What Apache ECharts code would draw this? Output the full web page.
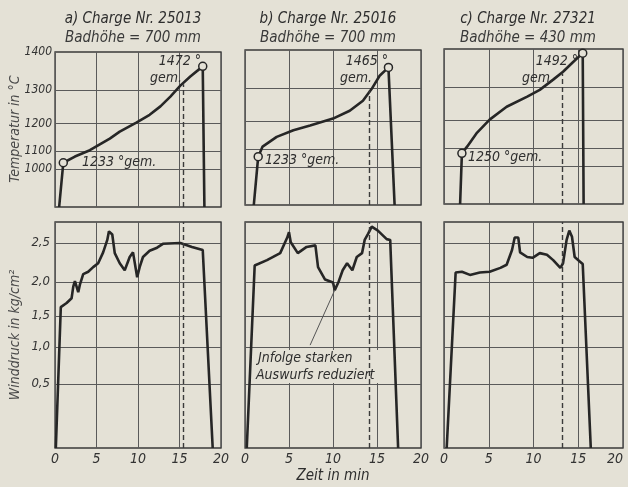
<!DOCTYPE html>
<html>
<head>
<meta charset="utf-8">
<script src="https://cdn.jsdelivr.net/npm/echarts@6/dist/echarts.min.js"></script>
<style>
  html, body { margin: 0; background: #e4e1d6; }
  #chart { width: 628px; height: 487px; }
</style>
</head>
<body>
<div id="chart"></div>
<script>
// printed grid is not evenly spaced: tick values and where their lines sit (share of plot height)
const tempTicks = [900, 1000, 1100, 1200, 1300, 1400];
const tempTickPos = [0, 0.244, 0.359, 0.538, 0.756, 1];
const pressTicks = [0, 0.5, 1.0, 1.5, 2.0, 2.5, 2.77];
const pressTickPos = [0, 0.283, 0.447, 0.584, 0.735, 0.907, 1];
const pressLabels = ["0,5", "1,0", "1,5", "2,0", "2,5"];

const charges = ["a) Charge Nr. 25013", "b) Charge Nr. 25016", "c) Charge Nr. 27321"];
const bathHeights = ["Badhöhe = 700 mm", "Badhöhe = 700 mm", "Badhöhe = 430 mm"];
const startTemps = ["1233", "1233", "1250"];
const endTemps = ["1472", "1465", "1492"];

// time (min), temperature
const tempA = [[0.5, 900], [1.0, 1036], [2.4, 1071], [4.2, 1104], [5.4, 1125], [6.6, 1146], [7.8, 1171],
  [9.8, 1203], [11.4, 1226], [12.7, 1251], [13.9, 1280], [15.1, 1311], [16.3, 1335], [17.8, 1362], [18.0, 900]];
const tempB = [[1.0, 900], [1.5, 1059], [2.0, 1110], [3.6, 1145], [5.5, 1169], [7.4, 1186], [10.0, 1209],
  [11.9, 1232], [13.4, 1262], [14.4, 1297], [15.3, 1332], [16.3, 1354], [17.0, 900]];
const tempC = [[1.8, 900], [2.0, 1072], [2.6, 1107], [3.7, 1157], [5.1, 1203], [7.0, 1241], [9.3, 1271],
  [10.7, 1291], [12.2, 1319], [13.3, 1340], [14.4, 1365], [15.5, 1389], [15.6, 900]];

// time (min), wind pressure kg/cm2
const pressA = [[0.1, 0], [0.7, 1.63], [1.4, 1.69], [2.0, 1.76], [2.2, 1.93], [2.4, 2.01], [2.8, 1.85], [3.0, 1.96],
  [3.4, 2.10], [4.0, 2.13], [4.6, 2.19], [5.2, 2.24], [5.8, 2.38], [6.3, 2.54], [6.5, 2.65], [6.9, 2.61], [7.2, 2.37],
  [7.8, 2.24], [8.4, 2.15], [9.0, 2.32], [9.4, 2.38], [9.9, 2.06], [10.2, 2.19], [10.6, 2.32], [11.4, 2.40],
  [12.3, 2.44], [13.0, 2.49], [15.1, 2.50], [16.5, 2.45], [17.8, 2.41], [19.0, 0]];
const pressB = [[0.2, 0], [1.1, 2.21], [2.5, 2.28], [4.0, 2.37], [4.8, 2.57], [5.0, 2.64], [5.2, 2.51], [6.0, 2.37],
  [7.0, 2.45], [8.0, 2.47], [8.3, 2.19], [9.1, 2.03], [10.0, 1.99], [10.2, 1.88], [10.6, 1.99], [11.1, 2.15],
  [11.6, 2.24], [12.2, 2.15], [12.7, 2.32], [13.3, 2.37], [13.6, 2.54], [14.0, 2.62], [14.4, 2.71], [15.1, 2.66],
  [16.1, 2.55], [16.5, 2.54], [17.4, 0]];
const pressC = [[0.3, 0], [1.3, 2.12], [2.0, 2.13], [2.9, 2.09], [4.0, 2.12], [5.1, 2.13], [6.3, 2.18], [7.0, 2.22],
  [7.6, 2.41], [7.9, 2.57], [8.3, 2.57], [8.5, 2.38], [9.3, 2.32], [9.9, 2.31], [10.7, 2.37], [11.5, 2.35],
  [12.2, 2.28], [13.0, 2.18], [13.3, 2.24], [13.7, 2.54], [14.0, 2.66], [14.3, 2.58], [14.6, 2.32], [15.2, 2.26],
  [15.5, 2.23], [16.4, 0]];

// dashed line: time and the temperature where it meets the curve
const sampleTime = [15.4, 14.1, 13.2];
const sampleTemp = [1315, 1292, 1335];

const temps = [tempA, tempB, tempC];
const presses = [pressA, pressB, pressC];

const paper = "#e4e1d6";
const ink = "#262626";
const gridInk = "#5a5a5a";
const font = "'DejaVu Sans Condensed', 'Liberation Sans Narrow', 'DejaVu Sans', sans-serif";

function toPos(v, ticks, pos) {
  for (let i = 1; i < ticks.length; i++) {
    if (v <= ticks[i]) {
      return pos[i - 1] + (v - ticks[i - 1]) / (ticks[i] - ticks[i - 1]) * (pos[i] - pos[i - 1]);
    }
  }
  return pos[pos.length - 1];
}
const tPos = v => toPos(v, tempTicks, tempTickPos);
const pPos = v => toPos(v, pressTicks, pressTickPos);

function nearest(v, arr) {
  let best = 0;
  arr.forEach((a, i) => { if (Math.abs(a - v) < Math.abs(arr[best] - v)) best = i; });
  return best;
}

const cols = [{ left: 55, width: 166 }, { left: 245, width: 176 }, { left: 444, width: 179 }];
const topRow = [52, 50, 49];

const grid = [], xAxis = [], yAxis = [], series = [];

cols.forEach((c, i) => {
  grid.push({ left: c.left, width: c.width, top: topRow[i], height: 155, show: true, outerBoundsMode: "none",
    borderColor: "#3a3a3a", borderWidth: 1.3, backgroundColor: "transparent" });
});
cols.forEach((c, i) => {
  grid.push({ left: c.left, width: c.width, top: 222, height: 226, show: true, outerBoundsMode: "none",
    borderColor: "#3a3a3a", borderWidth: 1.3, backgroundColor: "transparent" });
});

for (let g = 0; g < 6; g++) {
  const bottom = g >= 3;
  xAxis.push({
    type: "value", gridIndex: g, min: 0, max: 20, interval: 5,
    axisLine: { show: false }, axisTick: { show: false },
    splitLine: { show: true, lineStyle: { color: gridInk, width: 1 } },
    axisLabel: { show: bottom, color: "#333", fontSize: 14, fontStyle: "italic", fontFamily: font, margin: 4,
      alignMaxLabel: g === 5 ? "right" : null }
  });
  if (!bottom) {
    yAxis.push({
      type: "value", gridIndex: g, min: 0, max: 1,
      axisLine: { show: false },
      axisTick: { show: false, customValues: tempTickPos.slice(1, 5) },
      splitLine: { show: true, lineStyle: { color: gridInk, width: 1 } },
      axisLabel: {
        show: g === 0, customValues: tempTickPos.slice(1), margin: 3,
        color: "#333", fontSize: 12, fontStyle: "italic", fontFamily: font,
        formatter: v => String(tempTicks[nearest(v, tempTickPos)])
      }
    });
  } else {
    yAxis.push({
      type: "value", gridIndex: g, min: 0, max: 1,
      axisLine: { show: false },
      axisTick: { show: false, customValues: pressTickPos.slice(1, 6) },
      splitLine: { show: true, lineStyle: { color: gridInk, width: 1 } },
      axisLabel: {
        show: g === 3, customValues: pressTickPos.slice(1, 6), margin: 5,
        color: "#333", fontSize: 13, fontStyle: "italic", fontFamily: font,
        formatter: v => pressLabels[nearest(v, pressTickPos.slice(1, 6))]
      }
    });
  }
}

temps.forEach((d, i) => {
  const n = d.length;
  series.push({
    type: "line", xAxisIndex: i, yAxisIndex: i, symbol: "none", showAllSymbol: true,
    lineStyle: { color: ink, width: 2.6 },
    itemStyle: { color: paper, borderColor: ink, borderWidth: 1.5 },
    data: d.map((p, k) => {
      const item = { value: [p[0], tPos(p[1])] };
      if (k === 1 || k === n - 2) { item.symbol = "circle"; item.symbolSize = 8; }
      return item;
    }),
    markLine: {
      silent: true, symbol: "none", label: { show: false },
      lineStyle: { color: "#3a3a3a", type: [5, 3], width: 1.4 },
      data: [[{ coord: [sampleTime[i], 0] }, { coord: [sampleTime[i], tPos(sampleTemp[i])] }]]
    },
    z: 3
  });
});

presses.forEach((d, i) => {
  const s = {
    type: "line", xAxisIndex: i + 3, yAxisIndex: i + 3, symbol: "none",
    lineStyle: { color: ink, width: 2.6 },
    data: d.map(p => [p[0], pPos(p[1])]),
    markLine: {
      silent: true, symbol: "none", label: { show: false },
      lineStyle: { color: "#3a3a3a", type: [5, 3], width: 1.4 },
      data: [{ xAxis: sampleTime[i] }]
    },
    z: 3
  };
  if (i === 1) {
    s.markLine.data.push([
      { coord: [10.2, pPos(1.88)], lineStyle: { type: "solid", width: 1, color: "#555" } },
      { coord: [7.4, pPos(1.03)] }
    ]);
  }
  series.push(s);
});

const txt = (x, y, text, opt) => Object.assign({
  type: "text", x: x, y: y,
  style: Object.assign({ text: text, fill: "#2e2e2e", font: "italic 14px " + font,
    textAlign: "center", textVerticalAlign: "middle" }, opt || {}),
  z: 10
});

const graphic = [];
const titleX = [133, 328, 528];
titleX.forEach((x, i) => {
  graphic.push(txt(x, 19, charges[i], { font: "italic 15px " + font }));
  graphic.push(txt(x, 38, bathHeights[i], { font: "italic 15px " + font, fill: "#3a3a3a" }));
});
// measured temperatures
const startX = [82, 265, 468], startY = [162, 160, 157];
const endX = [201, 388, 578], gemX = [182, 372, 554];
startTemps.forEach((t, i) => {
  graphic.push(txt(startX[i], startY[i], t + " °gem.", { textAlign: "left" }));
  graphic.push(txt(endX[i], 61, endTemps[i] + " °", { textAlign: "right" }));
  graphic.push(txt(gemX[i], 78, "gem.", { textAlign: "right" }));
});
// note box hides the grid behind it, but not the dashed line
graphic.push({ type: "rect", shape: { x: 254, y: 350, width: 113, height: 33 }, style: { fill: paper }, z: 9 });
graphic.push({ type: "rect", shape: { x: 371, y: 350, width: 21, height: 33 }, style: { fill: paper }, z: 9 });
graphic.push(txt(258, 358, "Jnfolge starken", { textAlign: "left" }));
graphic.push(txt(256, 375, "Auswurfs reduziert", { textAlign: "left" }));
graphic.push(txt(333, 476, "Zeit in min", { font: "italic 15px " + font }));
graphic.push(Object.assign(txt(15, 129, "Temperatur in °C", { font: "italic 14px " + font, fill: "#4a4a4a" }),
  { rotation: Math.PI / 2 }));
graphic.push(Object.assign(txt(15, 335, "Winddruck in kg/cm²", { font: "italic 14px " + font, fill: "#4a4a4a" }),
  { rotation: Math.PI / 2 }));

const chart = echarts.init(document.getElementById("chart"));
chart.setOption({
  backgroundColor: paper,
  animation: false,
  grid: grid,
  xAxis: xAxis,
  yAxis: yAxis,
  series: series,
  graphic: graphic
});
</script>
</body>
</html>
